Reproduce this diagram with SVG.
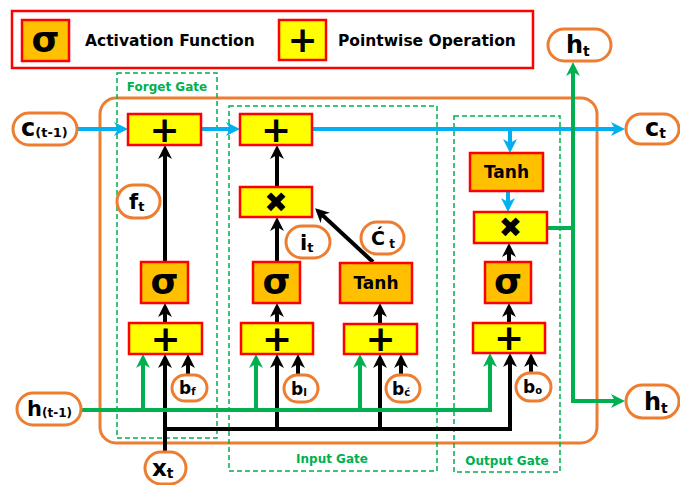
<svg xmlns="http://www.w3.org/2000/svg" width="680" height="485" viewBox="0 0 680 485">
<style>
.t{font-family:"DejaVu Sans","Liberation Sans",sans-serif;font-weight:bold;fill:#000}
.lg{font-family:"DejaVu Sans","Liberation Sans",sans-serif;font-weight:bold;font-size:15.5px;fill:#000}
.gl{font-family:"DejaVu Sans","Liberation Sans",sans-serif;font-weight:bold;font-size:12px;fill:#00B050;text-anchor:middle}
.op{fill:#FFFF00;stroke:#FF0000;stroke-width:2.5}
.af{fill:#FFC000;stroke:#FF0000;stroke-width:2.5}
.pill{fill:#fff;stroke:#ED7D31;stroke-width:3}
.gate{fill:none;stroke:#00B050;stroke-width:1.5;stroke-dasharray:5 3}
.bk{fill:none;stroke:#000;stroke-width:4}
.gr{fill:none;stroke:#00B050;stroke-width:4}
.bl{fill:none;stroke:#00B0F0;stroke-width:4}
.sym{text-anchor:middle}
</style>
<defs>
<marker id="ak" viewBox="0 0 14 14" refX="10" refY="7" markerWidth="14" markerHeight="14" orient="auto" markerUnits="userSpaceOnUse"><path d="M0,0 L14,7 L0,14 L4,7 z" fill="#000"/></marker>
<marker id="ag" viewBox="0 0 14 14" refX="10" refY="7" markerWidth="14" markerHeight="14" orient="auto" markerUnits="userSpaceOnUse"><path d="M0,0 L14,7 L0,14 L4,7 z" fill="#00B050"/></marker>
<marker id="ab" viewBox="0 0 14 14" refX="10" refY="7" markerWidth="14" markerHeight="14" orient="auto" markerUnits="userSpaceOnUse"><path d="M0,0 L14,7 L0,14 L4,7 z" fill="#00B0F0"/></marker>
</defs>

<g id="legend">
<rect x="12" y="11" width="521" height="57" fill="#fff" stroke="#FF0000" stroke-width="2.5"/>
<rect class="af" x="22" y="20" width="47" height="41"/>
<text class="t sym" x="45.5" y="52" font-size="36">σ</text>
<text class="lg" x="85" y="46">Activation Function</text>
<rect class="op" x="279" y="20" width="47" height="40"/>
<text class="t sym" x="302.5" y="52" font-size="36">+</text>
<text class="lg" x="338" y="46">Pointwise Operation</text>
</g>

<g id="cell">
<rect x="100" y="98" width="497" height="345" rx="16" fill="none" stroke="#ED7D31" stroke-width="3"/>
</g>

<g id="forget-gate">
<rect class="gate" x="117" y="73" width="100" height="365"/>
<text class="gl" x="167" y="91">Forget Gate</text>
</g>
<g id="input-gate">
<rect class="gate" x="229" y="106" width="208" height="365"/>
<text class="gl" x="332" y="463">Input Gate</text>
</g>
<g id="output-gate">
<rect class="gate" x="454" y="116" width="106" height="356"/>
<text class="gl" x="507" y="465">Output Gate</text>
</g>

<g id="connectors">
<path class="bl" d="M77,129 H124" marker-end="url(#ab)"/>
<path class="bl" d="M202,129 H236" marker-end="url(#ab)"/>
<path class="bl" d="M312,129 H621" marker-end="url(#ab)"/>
<path class="bl" d="M510,129 V149" marker-end="url(#ab)"/>
<path class="bl" d="M508,191 V208" marker-end="url(#ab)"/>

<path class="bk" d="M165,262 V149" marker-end="url(#ak)"/>
<path class="bk" d="M165,323 V307" marker-end="url(#ak)"/>
<path class="bk" d="M165,452 V358" marker-end="url(#ak)"/>
<path class="bk" d="M188,375 V358" marker-end="url(#ak)"/>
<path class="bk" d="M165,429 H510 V357" marker-end="url(#ak)"/>
<path class="bk" d="M277,429 V358" marker-end="url(#ak)"/>
<path class="bk" d="M380,429 V358" marker-end="url(#ak)"/>
<path class="bk" d="M277,187 V149" marker-end="url(#ak)"/>
<path class="bk" d="M277,262 V221" marker-end="url(#ak)"/>
<path class="bk" d="M277,323 V307" marker-end="url(#ak)"/>
<path class="bk" d="M298,375 V358" marker-end="url(#ak)"/>
<path class="bk" d="M380,324 V307" marker-end="url(#ak)"/>
<path class="bk" d="M401,375 V358" marker-end="url(#ak)"/>
<path class="bk" d="M373,262 L318,211" marker-end="url(#ak)"/>
<path class="bk" d="M509,323 V307" marker-end="url(#ak)"/>
<path class="bk" d="M509,262 V247" marker-end="url(#ak)"/>
<path class="bk" d="M531,373 V357" marker-end="url(#ak)"/>

<path class="gr" d="M81,410 H490 V357" marker-end="url(#ag)"/>
<path class="gr" d="M143,410 V358" marker-end="url(#ag)"/>
<path class="gr" d="M256,410 V358" marker-end="url(#ag)"/>
<path class="gr" d="M360,410 V358" marker-end="url(#ag)"/>
<path class="gr" d="M547,228 H573"/>
<path class="gr" d="M573,402 V66" marker-end="url(#ag)"/>
<path class="gr" d="M571,401 H621" marker-end="url(#ag)"/>
</g>

<g id="f-add-top"><rect class="op" x="128" y="114" width="73" height="31"/><text class="t sym" x="164.5" y="142" font-size="36">+</text></g>
<g id="i-add-top"><rect class="op" x="240" y="114" width="72" height="31"/><text class="t sym" x="276" y="142" font-size="36">+</text></g>
<g id="i-mul"><rect class="op" x="240" y="187" width="72" height="30"/><text class="t sym" x="276" y="212" font-size="28">✖</text></g>
<g id="f-sigma"><rect class="af" x="141" y="262" width="47" height="41"/><text class="t sym" x="164.5" y="294" font-size="36">σ</text></g>
<g id="i-sigma"><rect class="af" x="253" y="262" width="47" height="41"/><text class="t sym" x="276.5" y="294" font-size="36">σ</text></g>
<g id="c-tanh"><rect class="af" x="340" y="263" width="72" height="40"/><text class="t sym" x="376" y="289" font-size="17">Tanh</text></g>
<g id="f-add"><rect class="op" x="129" y="323" width="73" height="31"/><text class="t sym" x="165.5" y="351" font-size="36">+</text></g>
<g id="i-add"><rect class="op" x="241" y="323" width="72" height="31"/><text class="t sym" x="277" y="351" font-size="36">+</text></g>
<g id="c-add"><rect class="op" x="344" y="324" width="73" height="30"/><text class="t sym" x="380.5" y="351" font-size="36">+</text></g>
<g id="o-add"><rect class="op" x="473" y="323" width="72" height="30"/><text class="t sym" x="509" y="350" font-size="36">+</text></g>
<g id="o-sigma"><rect class="af" x="485" y="262" width="46" height="41"/><text class="t sym" x="508" y="294" font-size="36">σ</text></g>
<g id="o-mul"><rect class="op" x="474" y="212" width="73" height="31"/><text class="t sym" x="510.5" y="237" font-size="28">✖</text></g>
<g id="o-tanh"><rect class="af" x="470" y="153" width="73" height="38"/><text class="t sym" x="506.5" y="178" font-size="17">Tanh</text></g>

<g id="c-prev"><rect class="pill" x="13" y="113" width="64" height="32" rx="16"/><text class="t" x="21" y="136" font-size="24">c<tspan font-size="13" dy="1">(t-1)</tspan></text></g>
<g id="c-t"><rect class="pill" x="626" y="114" width="53" height="30" rx="15"/><text class="t" x="645" y="136" font-size="24">c<tspan font-size="14" dy="2">t</tspan></text></g>
<g id="h-t-top"><rect class="pill" x="548" y="29" width="63" height="32" rx="16"/><text class="t" x="566" y="53" font-size="24">h<tspan font-size="14" dy="3">t</tspan></text></g>
<g id="h-t"><rect class="pill" x="626" y="385" width="53" height="33" rx="16.5"/><text class="t" x="644" y="410" font-size="24">h<tspan font-size="14" dy="3">t</tspan></text></g>
<g id="h-prev"><rect class="pill" x="17" y="393" width="64" height="32" rx="16"/><text class="t" x="27" y="416" font-size="21">h<tspan font-size="12" dy="1">(t-1)</tspan></text></g>
<g id="x-t"><rect class="pill" x="145" y="452" width="41" height="32" rx="16"/><text class="t" x="152" y="476" font-size="23">x<tspan font-size="14" dy="2">t</tspan></text></g>
<g id="f-t"><rect class="pill" x="117" y="185" width="43" height="33" rx="16.5"/><text class="t" x="129" y="209" font-size="21">f<tspan font-size="13" dy="2">t</tspan></text></g>
<g id="i-t"><rect class="pill" x="286" y="226" width="44" height="32" rx="16"/><text class="t" x="300" y="250" font-size="21">i<tspan font-size="13" dy="2">t</tspan></text></g>
<g id="c-tilde"><rect class="pill" x="361" y="222" width="43" height="32" rx="16"/><text class="t" x="371" y="245" font-size="19">Ć<tspan font-size="12" dy="3"> t</tspan></text></g>
<g id="b-f"><rect class="pill" x="172" y="375" width="35" height="26" rx="13"/><text class="t" x="179" y="394" font-size="17">b<tspan font-size="10" dy="1">f</tspan></text></g>
<g id="b-i"><rect class="pill" x="284" y="375" width="34" height="27" rx="13.5"/><text class="t" x="291" y="395" font-size="17">b<tspan font-size="10" dy="1">I</tspan></text></g>
<g id="b-c"><rect class="pill" x="386" y="375" width="34" height="27" rx="13.5"/><text class="t" x="392" y="395" font-size="17">b<tspan font-size="10" dy="1">ć</tspan></text></g>
<g id="b-o"><rect class="pill" x="516" y="373" width="35" height="28" rx="14"/><text class="t" x="523" y="393" font-size="17">b<tspan font-size="10" dy="1">o</tspan></text></g>
</svg>
